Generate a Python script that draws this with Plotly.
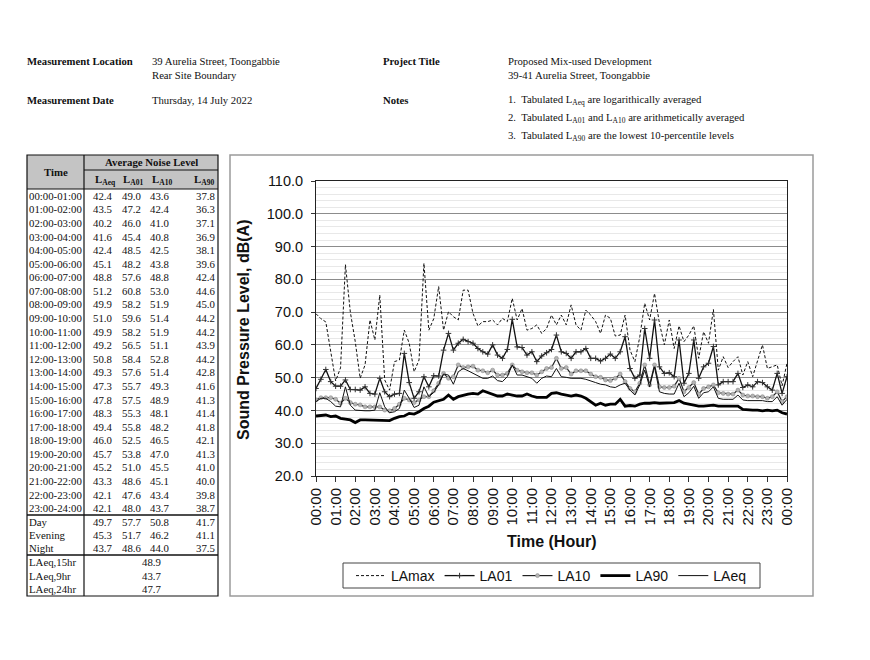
import plotly.graph_objects as go

# page is 870x660; the browser body has an 8px margin, so the figure is 854x644
PAGE_W, PAGE_H = 870, 660
OFF = 8
W, H = PAGE_W - 2 * OFF, PAGE_H - 2 * OFF

# ---------------- chart data (15-minute samples, 00:00 -> 24:00) ----------------
HOUR_LABELS = ["00:00", "01:00", "02:00", "03:00", "04:00", "05:00", "06:00", "07:00",
               "08:00", "09:00", "10:00", "11:00", "12:00", "13:00", "14:00", "15:00",
               "16:00", "17:00", "18:00", "19:00", "20:00", "21:00", "22:00", "23:00", "00:00"]
TIMES = [f"{h:02d}:{m:02d}" for h in range(24) for m in (0, 15, 30, 45)] + ["24:00"]

LAMAX = [69.5, 68.0, 67.0, 58.0, 49.0, 53.0, 84.5, 70.0, 61.0, 49.8, 53.9, 67.6, 61.5, 75.2, 49.3, 46.2,
         54.9, 55.4, 64.5, 60.5, 51.8, 55.4, 84.9, 64.5, 68.0,
         77.8, 64.5, 70.1, 68.6, 67.6, 76.7, 76.7, 69.6, 65.8, 67.1, 67.1, 67.6, 66.1, 68.1, 67.1,
         74.2, 67.6, 71.1, 64.5, 65.0, 66.1, 63.5, 65.0, 69.1,
         66.1, 69.1, 66.1, 72.2, 66.1, 64.5, 70.6, 69.1, 67.1, 63.5, 69.1, 68.1, 62.7, 63.0, 69.1,
         58.4, 54.9, 62.5, 72.7, 67.6, 75.7, 66.6, 60.0, 67.6,
         58.9, 65.8, 61.0, 63.0, 65.8, 55.9, 64.0, 60.5, 70.8, 52.3, 56.4, 53.1, 54.9, 56.4, 50.8,
         54.9, 50.3, 54.9, 60.0, 52.8, 53.3, 53.9, 47.5, 54.4]
LA01 = [46.7, 49.5, 52.5, 48.8, 47.4, 47.4, 49.3, 46.4, 46.4, 46.2, 47.2, 45.2, 45.0, 49.8, 45.7, 44.2,
        45.0, 45.2, 57.4, 48.5, 43.7, 45.7, 50.3, 47.2, 50.6,
        50.5, 58.4, 63.5, 58.4, 60.5, 61.7, 61.0, 60.5, 58.9, 57.9, 57.2, 60.0, 56.9, 55.9, 58.6,
        67.8, 59.4, 59.2, 56.9, 57.9, 54.9, 56.6, 57.6, 58.6,
        63.0, 57.9, 57.4, 55.9, 57.9, 57.9, 58.9, 55.9, 55.9, 55.1, 55.9, 57.2, 55.9, 57.9, 62.5,
        52.8, 49.8, 50.8, 65.0, 55.9, 67.6, 53.3, 51.3, 51.5,
        50.3, 61.5, 48.3, 51.3, 61.5, 49.8, 53.3, 54.4, 59.5, 47.8, 48.8, 48.8, 48.8, 51.3, 47.0,
        47.8, 47.2, 48.8, 48.5, 47.2, 46.2, 51.3, 45.2, 50.3]
LA10 = [43.2, 43.9, 43.9, 43.9, 43.4, 42.2, 43.7, 42.4, 41.9, 41.7, 41.1, 41.1, 41.1, 41.1, 40.1, 39.9,
        40.6, 41.9, 43.7, 43.2, 42.4, 43.2, 44.2, 44.2, 46.0,
        48.3, 51.3, 49.8, 50.3, 53.9, 53.1, 53.3, 53.5, 52.3, 52.1, 51.5, 52.3, 50.8, 50.8, 51.3,
        53.9, 52.3, 51.8, 51.5, 51.5, 50.8, 51.8, 52.8, 53.1,
        55.9, 52.8, 53.1, 51.1, 52.1, 52.1, 52.1, 51.1, 50.3, 50.1, 49.3, 49.1, 49.8, 51.1, 48.8,
        46.7, 45.7, 48.3, 53.9, 47.8, 53.9, 47.2, 47.0, 47.0,
        47.4, 49.8, 45.7, 47.0, 48.5, 45.0, 46.7, 47.2, 47.8, 45.4, 45.2, 45.0, 45.0, 46.2, 44.7,
        44.4, 44.4, 44.2, 44.2, 43.7, 44.2, 45.7, 42.7, 44.2]
LA90 = [38.3, 38.4, 38.6, 38.1, 38.3, 37.6, 37.3, 37.1, 36.3, 37.1, 37.1, 37.1, 37.1, 37.1, 36.9, 36.9,
        37.6, 38.1, 38.3, 39.1, 38.9, 39.6, 40.6, 41.3, 42.5,
        43.0, 43.4, 44.7, 43.4, 44.2, 44.7, 45.0, 45.2, 45.0, 46.0, 45.4, 45.0, 44.4, 44.4, 45.0,
        44.7, 44.4, 44.4, 45.0, 44.4, 44.0, 44.0, 44.0, 45.2,
        45.4, 45.0, 44.7, 44.4, 44.7, 44.4, 43.7, 42.7, 41.6, 42.2, 41.6, 41.9, 41.9, 43.4, 41.3,
        41.5, 41.3, 41.9, 42.2, 42.2, 42.4, 42.2, 42.2, 42.2,
        42.4, 43.0, 42.2, 41.9, 41.6, 41.3, 41.3, 41.5, 41.6, 41.3, 41.3, 41.3, 41.3, 41.3, 40.3,
        40.1, 40.1, 40.1, 39.9, 40.1, 39.9, 40.1, 39.3, 38.9]
LAEQ = [42.7, 43.7, 43.7, 42.7, 41.3, 41.1, 47.2, 41.6, 40.1, 39.9, 39.9, 39.9, 40.1, 45.4, 41.1, 39.3,
        39.6, 40.6, 46.2, 43.7, 40.9, 41.6, 47.2, 44.2, 45.5,
        47.8, 51.1, 50.8, 48.0, 51.8, 52.8, 52.1, 51.3, 50.5, 49.8, 49.8, 50.5, 49.1, 48.8, 50.3,
        53.9, 50.8, 50.8, 50.3, 49.8, 48.3, 49.8, 50.5, 50.3,
        52.8, 50.3, 50.1, 49.8, 49.8, 49.8, 49.5, 49.1, 48.5, 48.0, 47.8, 47.2, 47.0, 47.8, 48.3,
        46.2, 44.7, 47.8, 52.3, 47.2, 53.3, 45.7, 45.2, 45.0,
        45.0, 48.3, 44.2, 45.4, 47.4, 43.7, 45.4, 45.7, 47.2, 43.7, 43.4, 43.4, 43.4, 44.7, 43.2,
        43.0, 43.0, 43.0, 43.0, 42.7, 42.7, 44.2, 41.6, 43.4]

# ---------------- table data ----------------
TAB_TIMES = ["00:00-01:00", "01:00-02:00", "02:00-03:00", "03:00-04:00", "04:00-05:00", "05:00-06:00",
             "06:00-07:00", "07:00-08:00", "08:00-09:00", "09:00-10:00", "10:00-11:00", "11:00-12:00",
             "12:00-13:00", "13:00-14:00", "14:00-15:00", "15:00-16:00", "16:00-17:00", "17:00-18:00",
             "18:00-19:00", "19:00-20:00", "20:00-21:00", "21:00-22:00", "22:00-23:00", "23:00-24:00"]
TAB_LAEQ = [42.4, 43.5, 40.2, 41.6, 42.4, 45.1, 48.8, 51.2, 49.9, 51.0, 49.9, 49.2,
            50.8, 49.3, 47.3, 47.8, 48.3, 49.4, 46.0, 45.7, 45.2, 43.3, 42.1, 42.1]
TAB_LA01 = [49.0, 47.2, 46.0, 45.4, 48.5, 48.2, 57.6, 60.8, 58.2, 59.6, 58.2, 56.5,
            58.4, 57.6, 55.7, 57.5, 55.3, 55.8, 52.5, 53.8, 51.0, 48.6, 47.6, 48.0]
TAB_LA10 = [43.6, 42.4, 41.0, 40.8, 42.5, 43.8, 48.8, 53.0, 51.9, 51.4, 51.9, 51.1,
            52.8, 51.4, 49.3, 48.9, 48.1, 48.2, 46.5, 47.0, 45.5, 45.1, 43.4, 43.7]
TAB_LA90 = [37.8, 36.3, 37.1, 36.9, 38.1, 39.6, 42.4, 44.6, 45.0, 44.2, 44.2, 43.9,
            44.2, 42.8, 41.6, 41.3, 41.4, 41.8, 42.1, 41.3, 41.0, 40.0, 39.8, 38.7]
PERIODS = ["Day", "Evening", "Night"]
PER_LAEQ = [49.7, 45.3, 43.7]
PER_LA01 = [57.7, 51.7, 48.6]
PER_LA10 = [50.8, 46.2, 44.0]
PER_LA90 = [41.7, 41.1, 37.5]
SUM_LABELS = ["LAeq,15hr", "LAeq,9hr", "LAeq,24hr"]
SUM_VALUES = [48.9, 43.7, 47.7]

SANS = "Liberation Sans, Arial, sans-serif"
SERIF = "Liberation Serif, Times New Roman, serif"


def px(x):
    return (x - OFF) / W


def py(y):
    return 1 - (y - OFF) / H


fig = go.Figure()

fig.add_trace(go.Scatter(x=TIMES, y=LAMAX, name="LAmax", mode="lines",
                         line=dict(color="#111111", width=1, dash="3px,2px")))
fig.add_trace(go.Scatter(x=TIMES, y=LA01, name="LA01", mode="lines+markers",
                         line=dict(color="#111111", width=1.3),
                         marker=dict(symbol="cross-thin", size=4, line=dict(color="#333333", width=1))))
fig.add_trace(go.Scatter(x=TIMES, y=LA10, name="LA10", mode="lines+markers",
                         line=dict(color="#222222", width=1.2),
                         marker=dict(symbol="circle", size=4, color="#b4b4b4",
                                     line=dict(color="#808080", width=0.5))))
fig.add_trace(go.Scatter(x=TIMES, y=LA90, name="LA90", mode="lines",
                         line=dict(color="#000000", width=2.8)))
fig.add_trace(go.Scatter(x=TIMES, y=LAEQ, name="LAeq", mode="lines",
                         line=dict(color="#111111", width=1)))

fig.update_layout(
    width=W, height=H,
    margin=dict(l=0, r=0, t=0, b=0),
    paper_bgcolor="white", plot_bgcolor="white",
    font=dict(family=SANS, color="#111111"),
    xaxis=dict(domain=[px(316), px(787)], type="category", range=[0, 96],
               tickmode="array", tickvals=TIMES[::4], ticktext=HOUR_LABELS,
               tickangle=-90, tickfont=dict(size=15, family=SANS, color="#111111"),
               ticks="outside", ticklen=5, tickcolor="#333333",
               showline=True, linecolor="#222222", linewidth=1, mirror=True,
               showgrid=False, zeroline=False, automargin=False),
    yaxis=dict(domain=[py(476), py(181)], range=[20, 110], dtick=10, tickformat=".1f",
               tickfont=dict(size=14.5, family=SANS, color="#111111"),
               ticks="outside", ticklen=4, tickcolor="#333333", ticklabelstandoff=5,
               showline=True, linecolor="#222222", linewidth=1, mirror=True,
               showgrid=True, gridcolor="#8c8c8c", gridwidth=1, zeroline=False, automargin=False,
               minor=dict(dtick=2, showgrid=True, gridcolor="#e8e8e8", gridwidth=1)),
    legend=dict(orientation="h", x=px(351), y=py(576), xanchor="left", yanchor="middle",
                borderwidth=0, font=dict(size=14, family=SANS),
                itemwidth=30, bgcolor="rgba(0,0,0,0)"),
    showlegend=True,
)

shapes = []
anns = []

# chart frame
shapes.append(dict(type="rect", xref="paper", yref="paper", x0=px(230), x1=px(813), y0=py(596), y1=py(155),
                   line=dict(color="#9a9a9a", width=1.5)))
# legend box
shapes.append(dict(type="rect", xref="paper", yref="paper", x0=px(343), x1=px(760), y0=py(588), y1=py(563),
                   line=dict(color="#444444", width=1)))

# axis titles
anns.append(dict(x=px(243), y=py(329), text="<b>Sound Pressure Level, dB(A)</b>", textangle=-90,
                 font=dict(size=16, family=SANS, color="#111111")))
anns.append(dict(x=px(551), y=py(541), text="<b>Time (Hour)</b>",
                 font=dict(size=16, family=SANS, color="#111111")))

# ---------------- header block ----------------
HF = 10.7


def hdr(x, y, text, bold=False):
    t = f"<b>{text}</b>" if bold else text
    anns.append(dict(x=px(x), y=py(y), text=t, xanchor="left",
                     font=dict(size=HF, family=SERIF, color="#111111")))


hdr(25, 61, "Measurement Location", True)
hdr(150, 61, "39 Aurelia Street, Toongabbie")
hdr(150, 75, "Rear Site Boundary")
hdr(25, 100, "Measurement Date", True)
hdr(150, 100, "Thursday, 14 July 2022")
hdr(381, 61, "Project Title", True)
hdr(506, 61, "Proposed Mix-used Development")
hdr(506, 75, "39-41 Aurelia Street, Toongabbie")
hdr(381, 100, "Notes", True)
hdr(506, 100, "1.  Tabulated L<sub>Aeq</sub> are logarithically averaged")
hdr(506, 118, "2.  Tabulated L<sub>A01</sub> and L<sub>A10</sub> are arithmetically averaged")
hdr(506, 136, "3.  Tabulated L<sub>A90</sub> are the lowest 10-percentile levels")

# ---------------- table ----------------
TL, TR, TT, TB = 27, 218, 155, 596
TIME_R = 84
H1, H2 = 170, 189
D_END = 515
P_END = 555
TF = 10.8

shapes.append(dict(type="rect", xref="paper", yref="paper", x0=px(TL), x1=px(TR), y0=py(H2), y1=py(TT),
                   fillcolor="#c4c4c4", line=dict(width=0)))
for (x0, y0, x1, y1, w) in [(TIME_R, H1, TR, H1, 1), (TL, H2, TR, H2, 1), (TIME_R, TT, TIME_R, TB, 1.2),
                             (TL, D_END, TR, D_END, 1.5), (TL, P_END, TR, P_END, 1.5)]:
    shapes.append(dict(type="line", xref="paper", yref="paper", x0=px(x0), x1=px(x1), y0=py(y0), y1=py(y1),
                       line=dict(color="#111111", width=w)))
shapes.append(dict(type="rect", xref="paper", yref="paper", x0=px(TL), x1=px(TR), y0=py(TB), y1=py(TT),
                   line=dict(color="#111111", width=1.2)))


def cell(x, y, text, anchor="right", bold=False, size=TF):
    t = f"<b>{text}</b>" if bold else text
    anns.append(dict(x=px(x), y=py(y), text=t, xanchor=anchor,
                     font=dict(size=size, family=SERIF, color="#111111")))


cell((TL + TIME_R) / 2, (TT + H2) / 2, "Time", anchor="center", bold=True)
cell((TIME_R + TR) / 2, (TT + H1) / 2, "Average Noise Level", anchor="center", bold=True)
COL_R = [114, 143, 171, 217]
COL_C = [105, 133, 162, 204]
for c, sub in zip(COL_C, ["Aeq", "A01", "A10", "A90"]):
    cell(c, (H1 + H2) / 2 + 1, f"L<sub>{sub}</sub>", anchor="center", bold=True)

rh = (D_END - H2) / len(TAB_TIMES)
for i, t in enumerate(TAB_TIMES):
    yc = H2 + rh * (i + 0.5)
    cell(TL, yc, t, anchor="left")
    for xr, arr in zip(COL_R, [TAB_LAEQ, TAB_LA01, TAB_LA10, TAB_LA90]):
        cell(xr, yc, f"{arr[i]:.1f}")

ph = (P_END - D_END) / len(PERIODS)
for i, t in enumerate(PERIODS):
    yc = D_END + ph * (i + 0.5)
    cell(TL, yc, t, anchor="left")
    for xr, arr in zip(COL_R, [PER_LAEQ, PER_LA01, PER_LA10, PER_LA90]):
        cell(xr, yc, f"{arr[i]:.1f}")

sh = (TB - P_END) / len(SUM_LABELS)
for i, t in enumerate(SUM_LABELS):
    yc = P_END + sh * (i + 0.5)
    cell(TL, yc, t, anchor="left")
    cell((TIME_R + TR) / 2, yc, f"{SUM_VALUES[i]:.1f}", anchor="center")

for a in anns:
    a.setdefault("xref", "paper")
    a.setdefault("yref", "paper")
    a.setdefault("showarrow", False)
    a.setdefault("yanchor", "middle")
    a.setdefault("xanchor", "center")

fig.update_layout(shapes=shapes, annotations=anns)
fig.write_html("out.html")
